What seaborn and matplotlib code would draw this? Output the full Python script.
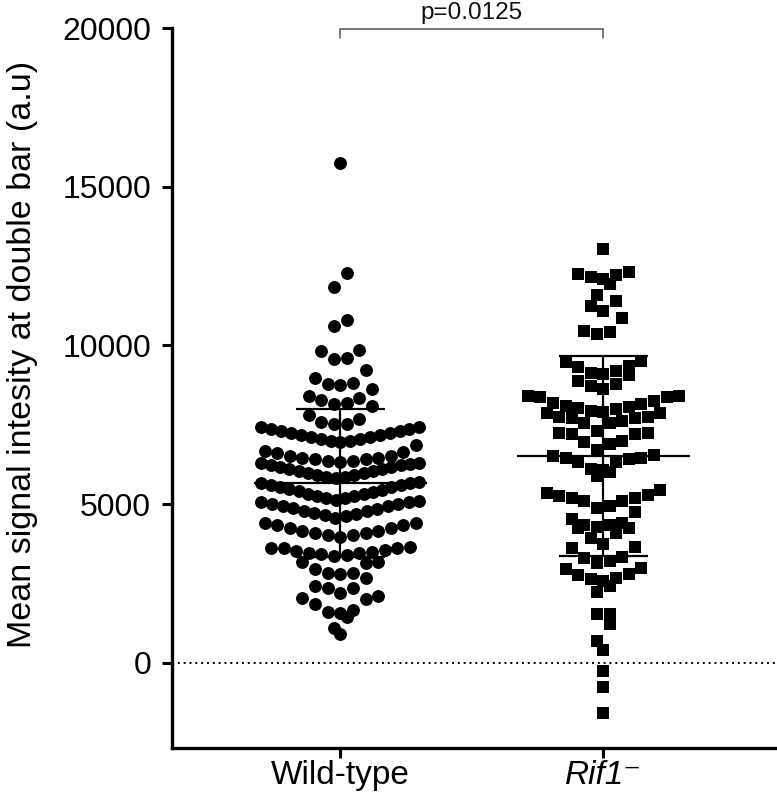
import numpy as np
import pandas as pd
import seaborn as sns
import matplotlib.pyplot as plt

# values (a.u.)
groups = ['Wild-type', 'Rif1']
tick_labels = ['Wild-type', 'Rif1\u207b']

wt_values = [
    15750, 12280, 11840, 10800, 10610, 9825, 9573, 9605, 9856, 9227,
    8975, 8786, 8754, 8817, 8628, 8408, 8282, 8156, 8188, 8345,
    8093, 7810, 7683, 7526, 7526, 7589,
    7420, 7370, 7310, 7250, 7190, 7120, 7050, 7000, 6960, 6990,
    7040, 7110, 7180, 7240, 7300, 7360, 7430,
    6690, 6605, 6520, 6470, 6415, 6365, 6330, 6365, 6415, 6470,
    6520, 6655, 6865,
    6290, 6230, 6170, 6110, 6050, 5990, 5930, 5870, 5815, 5860,
    5920, 5980, 6040, 6100, 6160, 6220, 6280, 6300,
    5660, 5600, 5540, 5470, 5400, 5330, 5260, 5190, 5130, 5180,
    5250, 5320, 5390, 5460, 5530, 5600, 5660, 5700,
    5080, 5010, 4940, 4870, 4800, 4730, 4650, 4555, 4620, 4700,
    4780, 4860, 4940, 5010, 5080, 5100,
    4408, 4330, 4250, 4170, 4090, 4020, 3968, 4020, 4090, 4170,
    4250, 4330, 4408,
    3610, 3527, 3454, 3423, 3610, 3370, 3665, 3400, 3454, 3486,
    3558, 3610, 3180, 3160, 3190, 2960, 2680, 2830, 2800, 2830,
    2420, 2360, 2200, 2360, 2015, 2110, 2050, 1860, 1605, 1450,
    1575, 1670, 910, 1100,
]

rif1_values = [
    13040, 12250, 12155, 11935, 12090, 12220, 12310, 11590, 11240, 11085,
    11400, 10865, 10455, 10360, 10425,
    9480, 9130, 9320, 9070, 9195, 9350, 9510, 9100, 8785, 8630,
    8720, 8880,
    8410, 8375, 8190, 8090, 8030, 7935, 7905, 8000, 8060, 8155,
    8250, 8375, 8410,
    7870, 7745, 7715, 7555, 7555, 7620, 7715, 7745, 7870,
    7240, 7210, 6990, 6895, 7305, 6960, 7210, 7240,
    6455, 6425, 6330, 6550, 6520, 6710, 6330, 6455,
    5890, 6080, 6015, 6110,
    5450, 5355, 5260, 5195, 5100, 5100, 5195, 5290,
    4755, 4880, 4945,
    4410, 4345, 4250, 4250, 4285, 4345, 4535, 4095, 3935,
    3750, 3620, 3650,
    3340, 3210, 2990, 2960, 3150, 3305,
    2800, 2680, 2580, 2235, 2425, 2645, 2770,
    1545, 1545, 1230, 695, 410,
    -250, -755, -1575,
]


def prism_offsets(values, base, step=600, dot=0.048, half_width=0.3):
    # GraphPad-like scatter: points in the same y-bin are spread side by side,
    # lowest value in the middle, the rest alternating outwards
    values = np.asarray(values, dtype=float)
    bins = np.floor((values - base) / step)
    offsets = np.zeros(len(values))
    for b in np.unique(bins):
        idx = np.where(bins == b)[0]
        idx = idx[np.argsort(values[idx])]
        n = len(idx)
        gap = dot if n < 2 else min(dot, 2 * half_width / (n - 1))
        slots = np.arange(n) - (n - 1) / 2
        order = np.argsort(np.abs(slots + 1e-3), kind='stable')
        for k, j in zip(order, idx):
            offsets[j] = slots[k] * gap
    return offsets


wt_df = pd.DataFrame({'value': wt_values})
wt_df['x'] = 0 + prism_offsets(wt_values, base=6920)
rif_df = pd.DataFrame({'value': rif1_values})
rif_df['x'] = 1 + prism_offsets(rif1_values, base=7880)

sns.set_style('ticks')
plt.rcParams['font.family'] = ['Liberation Sans', 'DejaVu Sans']
plt.rcParams['text.color'] = 'black'
plt.rcParams['axes.labelcolor'] = 'black'

fig = plt.figure(figsize=(7.77, 7.92), dpi=100)
ax = fig.add_axes([0.2214, 0.0556, 0.7786, 0.909])

sns.scatterplot(data=wt_df, x='x', y='value', marker='o', s=86,
                color='black', linewidth=0, ax=ax, zorder=3)
sns.scatterplot(data=rif_df, x='x', y='value', marker='s', s=80,
                color='black', linewidth=0, ax=ax, zorder=3)

# mean +/- SD
for i, vals in enumerate([wt_df['value'], rif_df['value']]):
    m, sd = vals.mean(), vals.std()
    ax.hlines(m, i - 0.33, i + 0.33, color='black', lw=1.6, zorder=4)
    ax.hlines([m - sd, m + sd], i - 0.17, i + 0.17, color='black', lw=1.6, zorder=4)
    ax.vlines(i, m - sd, m + sd, color='black', lw=1.6, zorder=4)

ax.axhline(0, color='black', ls=(0, (1, 2)), lw=1.4, zorder=1)

# significance bracket
ax.plot([0, 0, 1, 1], [19680, 19965, 19965, 19680], color='#555555',
        lw=1.1, clip_on=False)
ax.annotate('p=0.0125', xy=(0.5, 19965), xytext=(0, 4),
            textcoords='offset points', ha='center', va='bottom',
            fontsize=17.5, color='#111111', annotation_clip=False)

ax.set_xlim(-0.64, 1.66)
ax.set_ylim(-2680, 20000)
ax.set_yticks([0, 5000, 10000, 15000, 20000])
ax.set_xticks([0, 1])
ax.set_xticklabels(tick_labels, fontsize=24)
ax.get_xticklabels()[1].set_fontstyle('italic')
ax.tick_params(axis='y', labelsize=23, width=2.2, length=7, pad=8,
               color='black', labelcolor='black')
ax.tick_params(axis='x', width=2.2, length=7, pad=2,
               color='black', labelcolor='black')
ax.set_xlabel('')
ax.set_ylabel('Mean signal intesity at double bar (a.u)', fontsize=24.5)
ax.yaxis.set_label_coords(-0.222, 0.546)
sns.despine(ax=ax)
for s in ['left', 'bottom']:
    ax.spines[s].set_linewidth(2.4)
    ax.spines[s].set_color('black')

fig.savefig('out.png', dpi=100)
